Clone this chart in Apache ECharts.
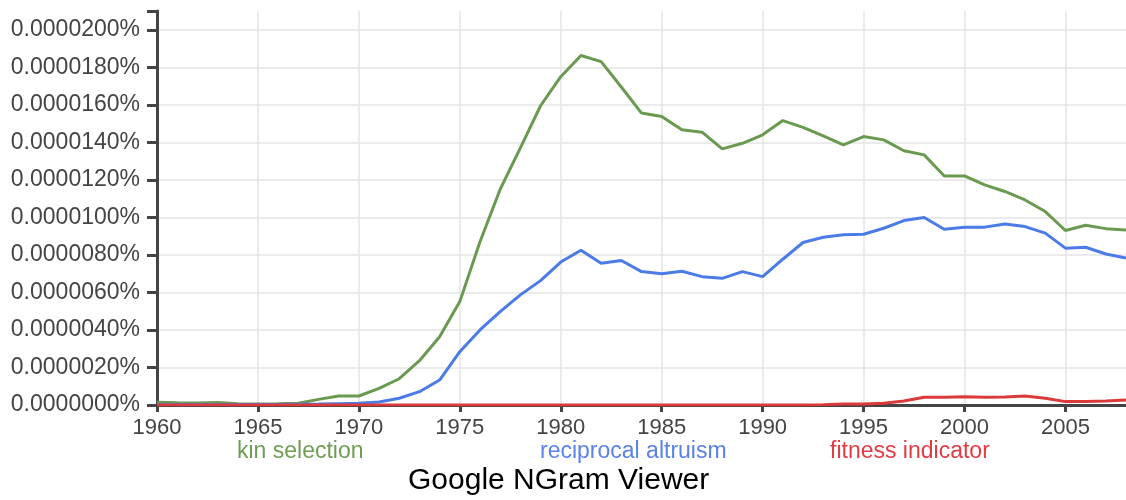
<!DOCTYPE html>
<html>
<head>
<meta charset="utf-8">
<script src="https://cdn.jsdelivr.net/npm/echarts@6/dist/echarts.min.js"></script>
<style>
html,body{margin:0;padding:0;background:#fff;}
#chart{width:1126px;height:500px;}
</style>
</head>
<body>
<div id="chart"></div>
<script>
// Values in units of 0.0000001% (label = value * 1e-6 %)
const years = [];
for (let y = 1960; y <= 2008; y++) years.push(y);

const kinSelection = [0.14,0.12,0.11,0.13,0.07,0.05,0.06,0.09,0.30,0.48,
  0.48,0.89,1.40,2.36,3.64,5.51,8.70,11.50,13.70,15.95,
  17.50,18.63,18.30,16.95,15.56,15.38,14.67,14.54,13.65,13.95,
  14.40,15.16,14.80,14.35,13.87,14.31,14.13,13.55,13.33,12.21,
  12.21,11.73,11.38,10.93,10.31,9.30,9.58,9.40,9.33];

const reciprocalAltruism = [0.02,0.02,0.02,0.02,0.02,0.02,0.03,0.04,0.05,0.07,
  0.09,0.16,0.36,0.71,1.33,2.84,4.00,4.98,5.87,6.63,
  7.62,8.25,7.56,7.70,7.11,6.99,7.13,6.84,6.75,7.11,
  6.84,7.77,8.66,8.94,9.07,9.10,9.42,9.83,9.99,9.37,
  9.48,9.48,9.65,9.51,9.16,8.36,8.41,8.05,7.84];

const fitnessIndicator = [0,0,0,0,0,0,0,0,0,0,
  0,0,0,0,0,0,0,0,0,0,
  0,0,0,0,0,0,0,0,0,0,
  0,0,0,0.02,0.05,0.05,0.09,0.21,0.41,0.41,
  0.44,0.41,0.43,0.48,0.36,0.18,0.18,0.21,0.27];

const seriesNames = ['kin selection','reciprocal altruism','fitness indicator'];
const chartTitle = 'Google NGram Viewer';
const yTickValues = [0,2,4,6,8,10,12,14,16,18,20,21];
const yLabelValues = [0,2,4,6,8,10,12,14,16,18,20];

const colors = ['#6a9a50','#4a7be6','#dc3a3a'];
const textColors = ['#6f9d55','#5b82ea','#e03c44'];

const pairs = arr => years.map((y,i)=>[y,arr[i]]);

const chart = echarts.init(document.getElementById('chart'), null, {renderer:'canvas'});
const font = '"Liberation Sans", Arial, sans-serif';

chart.setOption({
  animation:false,
  backgroundColor:'#ffffff',
  grid:{left:157,right:0,top:11,bottom:95,containLabel:false},
  xAxis:{
    type:'value', min:1960, max:2008, interval:5,
    axisLine:{show:true,onZero:false,lineStyle:{color:'#444',width:3}},
    axisTick:{show:true,length:7,lineStyle:{color:'#444',width:3}},
    axisLabel:{show:true,margin:12,fontSize:22,color:'#444',fontFamily:font,showMaxLabel:false,formatter:v=>String(v)},
    splitLine:{show:true,showMaxLine:false,showMinLine:false,lineStyle:{color:'#e4e4e4',width:1.5}}
  },
  yAxis:{
    type:'value', min:0, max:21, interval:2,
    axisLine:{show:true,lineStyle:{color:'#444',width:3}},
    axisTick:{show:true,length:10,customValues:yTickValues,lineStyle:{color:'#444',width:3}},
    axisLabel:{show:true,margin:17,fontSize:23,color:'#444',fontFamily:font,
      customValues:yLabelValues,
      formatter:v=>(v*1e-6).toFixed(7)+'%'},
    splitLine:{show:true,showMaxLine:false,showMinLine:false,lineStyle:{color:'#e4e4e4',width:1.5}}
  },
  series:[
    {name:seriesNames[0],type:'line',data:pairs(kinSelection),showSymbol:false,lineStyle:{color:colors[0],width:3},z:3},
    {name:seriesNames[1],type:'line',data:pairs(reciprocalAltruism),showSymbol:false,lineStyle:{color:colors[1],width:3},z:4},
    {name:seriesNames[2],type:'line',data:pairs(fitnessIndicator),showSymbol:false,lineStyle:{color:colors[2],width:3},z:5}
  ],
  graphic:[
    {type:'text',left:237,top:440,style:{text:seriesNames[0],fill:textColors[0],font:'23px '+font}},
    {type:'text',left:540,top:440,style:{text:seriesNames[1],fill:textColors[1],font:'23px '+font}},
    {type:'text',left:830,top:440,style:{text:seriesNames[2],fill:textColors[2],font:'23px '+font}},
    {type:'text',left:408,top:466,style:{text:chartTitle,fill:'#000',font:'30px '+font}}
  ]
});
</script>
</body>
</html>
